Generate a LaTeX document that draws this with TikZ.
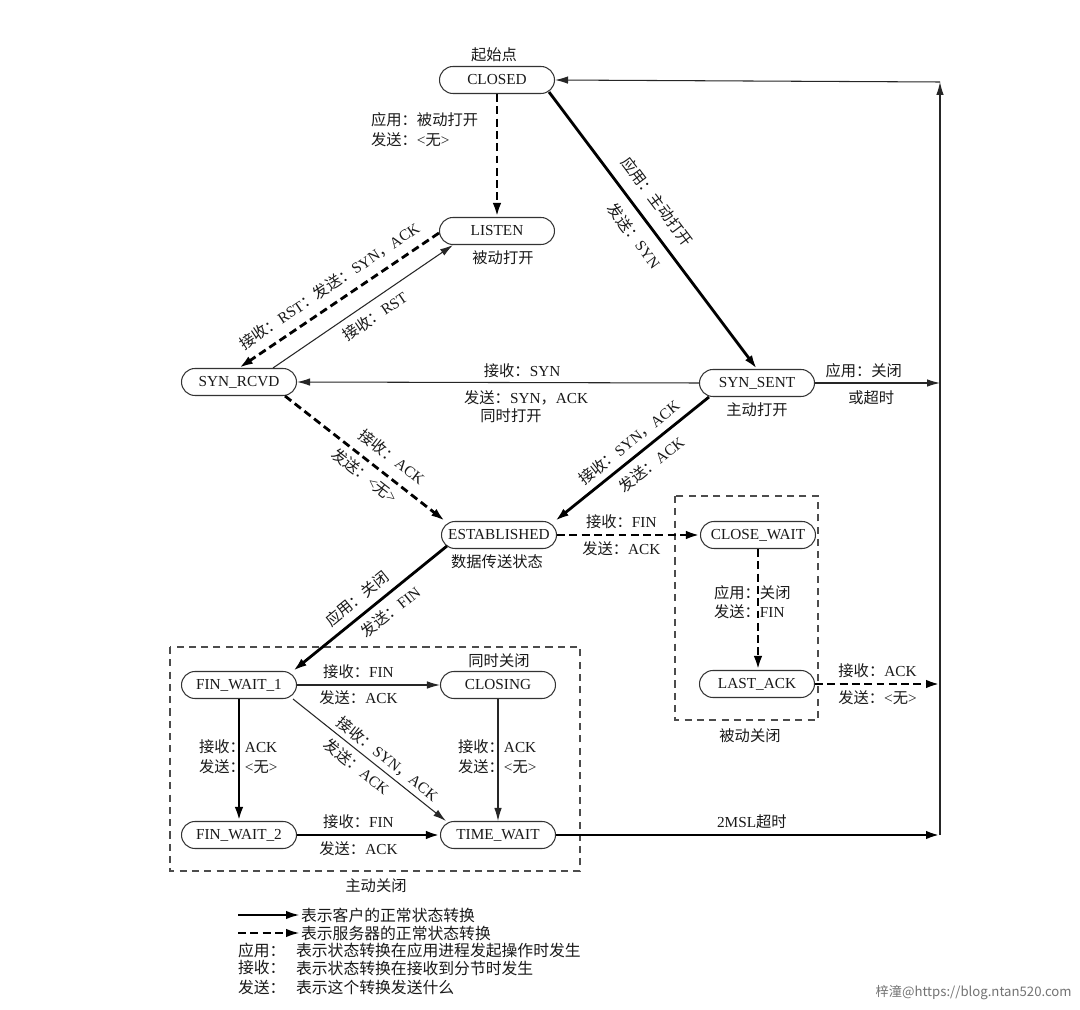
\documentclass[tikz,border=0pt]{standalone}
\usepackage{fontspec}
\setmainfont{Liberation Serif}
\newfontfamily\cjk{Noto Sans CJK SC}
\usetikzlibrary{arrows.meta,calc}
\newcommand\zh[1]{{\cjk #1}}
\begin{document}
\begin{tikzpicture}[x=0.02cm,y=0.02cm,
  font=\fontsize{8.7}{10}\selectfont,
  state/.style={draw=black!80, line width=0.6pt, rounded corners=0.27cm,
    minimum width=2.3cm, minimum height=0.54cm, inner xsep=2pt, inner ysep=0pt, text=black!90},
  client/.style={line width=1.6pt, -{Latex[length=2.8mm,width=1.7mm]}},
  server/.style={line width=1.6pt, dash pattern=on 4.5pt off 2.5pt, -{Latex[length=2.8mm,width=1.7mm]}},
  other/.style={line width=0.6pt, draw=black!85, -{Latex[length=2.6mm,width=1.5mm]}},
  lab/.style={text=black!90, inner sep=1pt},
  group/.style={draw=black!70, line width=0.6pt, dash pattern=on 4pt off 3pt},
]
\useasboundingbox[fill=white] (0,0) rectangle (1080,-1010);

% states
\node[state] (closed) at (497,-80) {CLOSED};
\node[lab] (closedL) at (494,-55) {\zh{起始点}};
\node[state] (listen) at (497,-231) {LISTEN};
\node[lab] (listenL) at (503,-258) {\zh{被动打开}};
\node[state] (synrcvd) at (239,-382) {SYN\_RCVD};
\node[state] (synsent) at (757,-383) {SYN\_SENT};
\node[lab] (synsentL) at (757,-410) {\zh{主动打开}};
\node[state] (estab) at (499,-535) {ESTABLISHED};
\node[lab] (estabL) at (497,-562) {\zh{数据传送状态}};
\node[state] (closewait) at (758,-535) {CLOSE\_WAIT};
\node[state] (lastack) at (757,-684) {LAST\_ACK};
\node[state] (fw1) at (239,-685) {FIN\_WAIT\_1};
\node[state] (closing) at (498,-685) {CLOSING};
\node[lab] (closingL) at (499,-661) {\zh{同时关闭}};
\node[state] (fw2) at (239,-835) {FIN\_WAIT\_2};
\node[state] (timewait) at (498,-835) {TIME\_WAIT};

% groups
\draw[group] (170,-647) rectangle (580,-871);
\node[lab] (activeL) at (376,-886) {\zh{主动关闭}};
\draw[group] (675,-496) rectangle (818,-720);
\node[lab] (passiveL) at (750,-736) {\zh{被动关闭}};

% right-hand return line
\coordinate (rt) at (940,-82);
\coordinate (rss) at (940,-383);
\coordinate (rla) at (940,-684);
\coordinate (rtw) at (940,-835);

% CLOSED -> LISTEN
\draw[server] (closed.south) -- (listen.north);
\node[lab, anchor=west] (pl1) at (369,-120) {\zh{应用：被动打开}};
\node[lab, anchor=west] (pl2) at (369,-140) {\zh{发送：}<\zh{无}>};

% CLOSED -> SYN_SENT
\draw[client] ($(closed.south east)+(-6,2)$) -- (synsent.north)
  node[lab, pos=0.44, sloped, above=6pt] {\zh{应用：主动打开}}
  node[lab, pos=0.48, sloped, below=4.5pt] {\zh{发送：}SYN};

% LISTEN -> SYN_RCVD
\draw[server] ($(listen.west)+(0,-2)$) -- (synrcvd.north)
  node[lab, pos=0.5, sloped, above=4pt] {\zh{接收：}RST\zh{：发送：}SYN\zh{，}ACK};

% SYN_RCVD -> LISTEN
\draw[other] ($(synrcvd.north)+(34,0)$) -- ($(listen.south west)+(14,0)$)
  node[lab, pos=0.52, sloped, below=3pt] {\zh{接收：}RST};

% SYN_SENT -> SYN_RCVD
\draw[other] (synsent.west) -- (synrcvd.east)
  node[lab, pos=0.44, above=1.5pt] {\zh{接收：}SYN}
  node[lab, pos=0.43, below=3pt] (simopen) {\zh{发送：}SYN\zh{，}ACK};
\node[lab] (simopenL) at (511,-416) {\zh{同时打开}};

% SYN_RCVD -> ESTABLISHED
\draw[server] ($(synrcvd.south east)+(-12,0)$) -- ($(estab.north west)+(4,0)$)
  node[lab, pos=0.6, sloped, above=4.5pt] {\zh{接收：}ACK}
  node[lab, pos=0.55, sloped, below=2pt] {\zh{发送：}<\zh{无}>};

% SYN_SENT -> ESTABLISHED
\draw[client] ($(synsent.south west)+(10,0)$) -- ($(estab.north east)+(-2,0)$)
  node[lab, pos=0.46, sloped, above=2.5pt] {\zh{接收：}SYN\zh{，}ACK}
  node[lab, pos=0.44, sloped, below=3.5pt] {\zh{发送：}ACK};

% SYN_SENT -> right
\draw[other] (synsent.east) -- (rss)
  node[lab, pos=0.39, above=1.5pt] {\zh{应用：关闭}}
  node[lab, pos=0.45, below=3pt] {\zh{或超时}};

% ESTABLISHED -> CLOSE_WAIT
\draw[server] (estab.east) -- (closewait.west)
  node[lab, pos=0.45, above=2pt] {\zh{接收：}FIN}
  node[lab, pos=0.45, below=2pt] {\zh{发送：}ACK};

% CLOSE_WAIT -> LAST_ACK
\draw[server] (closewait.south) -- (closewait.south |- lastack.north);
\node[lab, anchor=west] (cw1) at (712,-593) {\zh{应用：关闭}};
\node[lab, anchor=west] (cw2) at (712,-612) {\zh{发送：}FIN};

% LAST_ACK -> right
\draw[server] (lastack.east) -- (rla)
  node[lab, pos=0.5, above=2pt] {\zh{接收：}ACK}
  node[lab, pos=0.5, below=2pt] {\zh{发送：}<\zh{无}>};

% ESTABLISHED -> FIN_WAIT_1
\draw[client] ($(estab.south west)+(6,3)$) -- ($(fw1.north east)+(-4,0)$)
  node[lab, pos=0.52, sloped, above=3pt] {\zh{应用：关闭}}
  node[lab, pos=0.43, sloped, below=3pt] {\zh{发送：}FIN};

% FIN_WAIT_1 -> CLOSING
\draw[other] (fw1.east) -- (closing.west)
  node[lab, pos=0.43, above=2pt] {\zh{接收：}FIN}
  node[lab, pos=0.43, below=2pt] {\zh{发送：}ACK};

% FIN_WAIT_1 -> FIN_WAIT_2
\draw[client] (fw1.south) -- (fw2.north);
\node[lab, anchor=west] (f12a) at (197,-747) {\zh{接收：}ACK};
\node[lab, anchor=west] (f12b) at (197,-767) {\zh{发送：}<\zh{无}>};

% CLOSING -> TIME_WAIT
\draw[other] (closing.south) -- (timewait.north);
\node[lab, anchor=west] (ctwa) at (456,-747) {\zh{接收：}ACK};
\node[lab, anchor=west] (ctwb) at (456,-767) {\zh{发送：}<\zh{无}>};

% FIN_WAIT_1 -> TIME_WAIT
\draw[other] ($(fw1.south east)+(-4,0)$) -- ($(timewait.north west)+(6,0)$)
  node[lab, pos=0.57, sloped, above=1.5pt] {\zh{接收：}SYN\zh{，}ACK}
  node[lab, pos=0.47, sloped, below=2pt] {\zh{发送：}ACK};

% FIN_WAIT_2 -> TIME_WAIT
\draw[client] (fw2.east) -- (timewait.west)
  node[lab, pos=0.43, above=2pt] {\zh{接收：}FIN}
  node[lab, pos=0.43, below=2pt] {\zh{发送：}ACK};

% TIME_WAIT -> right
\draw[client] (timewait.east) -- (rtw)
  node[lab, pos=0.51, above=2pt] {2MSL\zh{超时}};

% return to CLOSED
\draw[other] (rtw) -- (rt);
\draw[other] (rt) -- (closed.east);

% legend
\coordinate (lg1a) at (238,-915);
\coordinate (lg1b) at (300,-915);
\coordinate (lg2a) at (238,-933);
\coordinate (lg2b) at (300,-933);
\draw[client, line width=1.4pt] (lg1a) -- (lg1b);
\draw[server, line width=1.4pt] (lg2a) -- (lg2b);
\begin{scope}[font=\fontsize{9}{10}\selectfont]
\node[lab, anchor=west] (lgt1) at (299,-915) {\zh{表示客户的正常状态转换}};
\node[lab, anchor=west] (lgt2) at (299,-933) {\zh{表示服务器的正常状态转换}};
\node[lab, anchor=west] (lgk3) at (236,-950) {\zh{应用：}};
\node[lab, anchor=west] (lgt3) at (294,-950) {\zh{表示状态转换在应用进程发起操作时发生}};
\node[lab, anchor=west] (lgk4) at (236,-968) {\zh{接收：}};
\node[lab, anchor=west] (lgt4) at (294,-968) {\zh{表示状态转换在接收到分节时发生}};
\node[lab, anchor=west] (lgk5) at (236,-987) {\zh{发送：}};
\node[lab, anchor=west] (lgt5) at (294,-987) {\zh{表示这个转换发送什么}};
\end{scope}

% watermark caption
\node[anchor=east, text=black!55, inner sep=0pt, font=\cjk\fontsize{7.5}{9}\selectfont] (wm) at (1072,-993) {梓潼@https://blog.ntan520.com};
\end{tikzpicture}
\end{document}
